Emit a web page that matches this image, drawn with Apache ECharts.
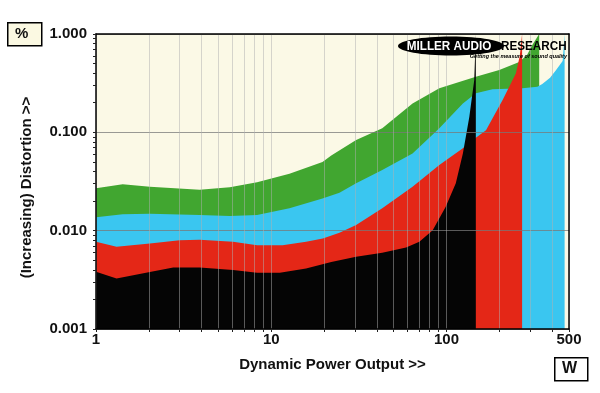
<!DOCTYPE html>
<html>
<head>
<meta charset="utf-8">
<script src="https://cdn.jsdelivr.net/npm/echarts@6/dist/echarts.min.js"></script>
<style>html,body{margin:0;padding:0;background:#fff}#c{width:600px;height:393px}</style>
</head>
<body>
<div id="c"></div>
<script>
// Power (W) vs distortion (%) traces
const greenTrace = [[1,0.027],[1.42,0.0296],[2.03,0.028],[3.9,0.026],[5.8,0.0276],[8.3,0.031],[12.7,0.038],[19.6,0.050],[22,0.058],[30.5,0.0835],[43,0.11],[64,0.197],[91,0.28],[147,0.368],[200,0.43],[260,0.52],[288,0.61],[310,0.78],[338,1.0]];
const blueTrace = [[1,0.0137],[1.42,0.0147],[2.03,0.0149],[3.9,0.0144],[5.8,0.0141],[8.3,0.0144],[12.7,0.0169],[19.6,0.0213],[24.5,0.0243],[30.5,0.0303],[43,0.0413],[64,0.061],[91,0.11],[124,0.197],[147,0.249],[183,0.274],[271,0.28],[330,0.29],[352,0.31],[390,0.36],[422,0.43],[460,0.53],[472,1.0]];
const redTrace = [[1,0.0077],[1.31,0.00686],[2.03,0.0074],[3.0,0.008],[3.9,0.0081],[6.05,0.0077],[8.3,0.0071],[11.6,0.0071],[15.8,0.0077],[19.7,0.0083],[24.5,0.0095],[30.5,0.0114],[43,0.0169],[64,0.028],[91,0.0465],[124,0.0687],[147,0.088],[168,0.105],[209,0.213],[249,0.40],[262,0.6],[270,1.0]];
const blackTrace = [[1,0.00382],[1.31,0.00327],[2.03,0.0038],[2.76,0.00423],[3.9,0.00423],[6.05,0.00397],[8.3,0.00373],[11.2,0.00373],[15.8,0.00413],[22,0.0048],[30.5,0.00543],[43,0.00597],[58.8,0.00676],[70,0.0077],[83.4,0.0101],[99,0.0175],[113,0.0303],[124,0.061],[135,0.144],[144,0.34],[147,1.0]];

const xTickValues = [1,2,3,4,5,6,7,8,9,10,20,30,40,50,60,70,80,90,100,200,300,400,500];
const xLabelValues = [1,10,100,500];
const yMinorTickValues = [0.001,0.002,0.003,0.004,0.005,0.006,0.007,0.008,0.009,0.01,0.02,0.03,0.04,0.05,0.06,0.07,0.08,0.09,0.1,0.2,0.3,0.4,0.5,0.6,0.7,0.8,0.9,1];
const yLabelValues = [0.001,0.01,0.1,1];

const FONT = 'Liberation Sans, Arial, sans-serif';
const labelStyle = {fontFamily: FONT, fontWeight: 'bold', fontSize: 15, color: '#111'};

function area(name, data, color) {
  return {
    name, type: 'line', data, xAxisIndex: 0, yAxisIndex: 0,
    symbol: 'none', smooth: false, silent: true,
    lineStyle: {width: 0},
    areaStyle: {color, opacity: 1, origin: 'start'},
    z: 2
  };
}

const chart = echarts.init(document.getElementById('c'), null, {renderer: 'canvas'});
chart.setOption({
  animation: false,
  grid: {left: 96, right: 31, top: 34, bottom: 64, show: true, backgroundColor: '#fbf9e6', borderWidth: 0},
  xAxis: [{
    type: 'log', logBase: 10, min: 1, max: 500, position: 'bottom', z: 5,
    name: 'Dynamic Power Output >>', nameLocation: 'middle', nameGap: 28,
    nameTextStyle: {fontFamily: FONT, fontWeight: 'bold', fontSize: 15, color: '#111'},
    axisLine: {show: true, lineStyle: {color: '#000', width: 1.5}},
    axisTick: {show: true, inside: false, length: 3, customValues: xTickValues, lineStyle: {color: '#222', width: 1}},
    axisLabel: Object.assign({customValues: xLabelValues, margin: 3, formatter: v => String(Math.round(v))}, labelStyle),
    splitLine: {show: true, lineStyle: {color: 'rgba(175,175,175,0.5)', width: 1}}
  }, {
    type: 'log', logBase: 10, min: 1, max: 500, position: 'top', z: 5,
    axisLine: {show: true, lineStyle: {color: '#000', width: 1.5}},
    axisTick: {show: false}, axisLabel: {show: false}, splitLine: {show: false}
  }],
  yAxis: [{
    type: 'log', logBase: 10, min: 0.001, max: 1, position: 'left', z: 5,
    name: '(Increasing) Distortion >>', nameLocation: 'middle', nameGap: 62, nameRotate: 90,
    nameTextStyle: {fontFamily: FONT, fontWeight: 'bold', fontSize: 15, color: '#111', padding: [0, 12, 0, 0]},
    axisLine: {show: true, lineStyle: {color: '#000', width: 1.5}},
    axisTick: {show: false},
    axisLabel: Object.assign({customValues: yLabelValues, margin: 9, formatter: v => v.toFixed(3)}, labelStyle),
    splitLine: {show: true, lineStyle: {color: 'rgba(120,120,120,0.75)', width: 1}}
  }, {
    type: 'log', logBase: 10, min: 0.001, max: 1, position: 'left', z: 5,
    axisLine: {show: false},
    axisTick: {show: true, length: 3, customValues: yMinorTickValues, lineStyle: {color: '#222', width: 1}},
    axisLabel: {show: false}, splitLine: {show: false}
  }, {
    type: 'log', logBase: 10, min: 0.001, max: 1, position: 'right', z: 5,
    axisLine: {show: true, lineStyle: {color: '#000', width: 1.5}},
    axisTick: {show: false}, axisLabel: {show: false}, splitLine: {show: false}
  }],
  series: [
    area('Green', greenTrace, '#41a630'),
    area('Blue', blueTrace, '#3ac6f0'),
    area('Red', redTrace, '#e42717'),
    area('Black', blackTrace, '#050505')
  ],
  graphic: [
    {type: 'rect', left: 7, top: 22, shape: {width: 34, height: 23}, style: {fill: '#fbf9e2', stroke: '#000', lineWidth: 1.5}, z: 10},
    {type: 'text', left: 15, top: 26, style: {text: '%', font: 'bold 15px ' + FONT, fill: '#111'}, z: 11},
    {type: 'rect', left: 554, top: 357, shape: {width: 33, height: 23}, style: {fill: '#fff', stroke: '#000', lineWidth: 1.5}, z: 10},
    {type: 'text', left: 562, top: 361, style: {text: 'W', font: 'bold 16px ' + FONT, fill: '#111'}, z: 11},
    {type: 'ellipse', shape: {cx: 451, cy: 46, rx: 53, ry: 9.5}, style: {fill: '#000'}, z: 20},
    {type: 'text', x: 449, y: 46, scaleX: 0.9, style: {text: 'MILLER AUDIO', font: 'bold 13px ' + FONT, fill: '#fff', align: 'center', verticalAlign: 'middle'}, z: 21},
    {type: 'text', x: 501, y: 46, scaleX: 0.9, style: {text: 'RESEARCH', font: 'bold 13px ' + FONT, fill: '#000', align: 'left', verticalAlign: 'middle'}, z: 21},
    {type: 'text', x: 567, y: 56, style: {text: 'Getting the measure of sound quality', font: 'italic bold 5.5px ' + FONT, fill: '#000', align: 'right', verticalAlign: 'middle'}, z: 21}
  ]
});
</script>
</body>
</html>
